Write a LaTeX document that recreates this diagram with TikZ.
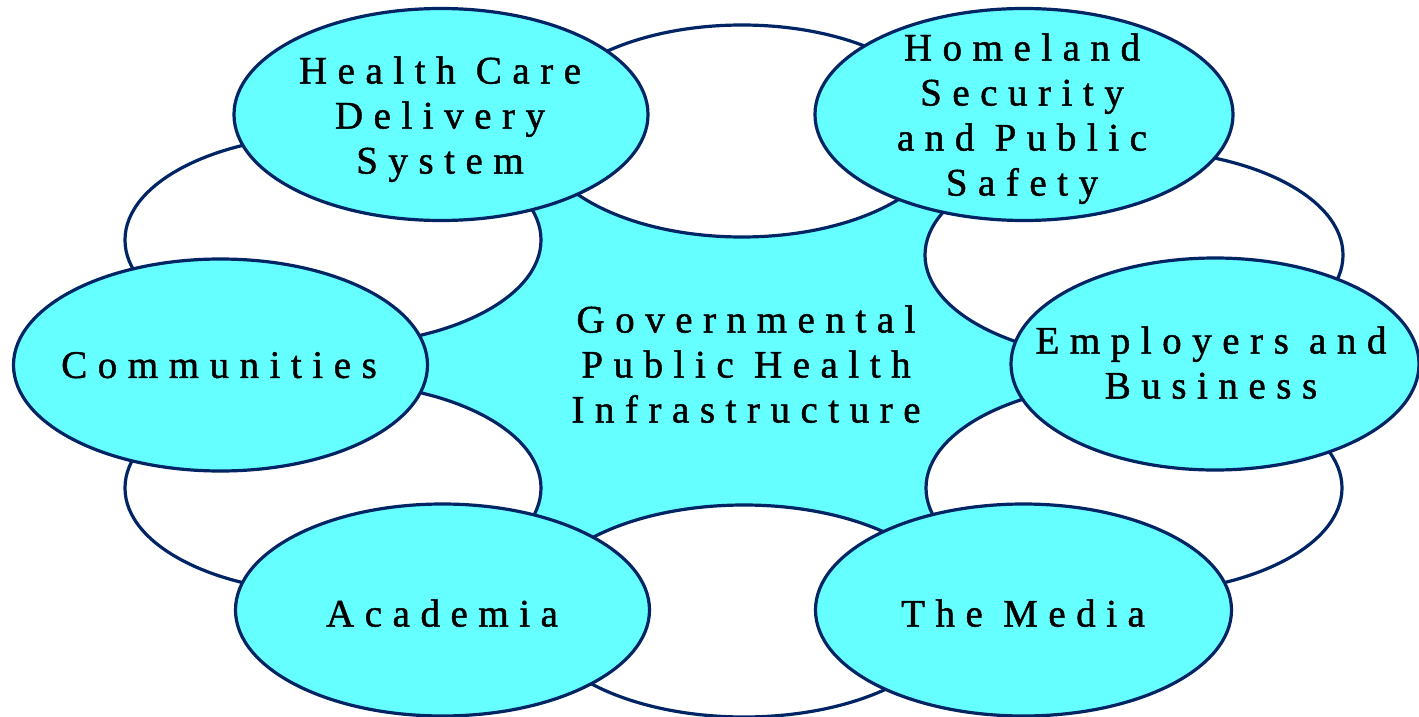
\documentclass[tikz,border=0pt]{standalone}
\usepackage{fontspec}
\setmainfont{Liberation Serif}[LetterSpace=27, FakeBold=1.2]
\usetikzlibrary{shapes.geometric}

\definecolor{bubble}{RGB}{102,255,255}
\definecolor{rim}{RGB}{0,36,100}

\tikzset{
  partner/.style={ellipse, draw=rim, fill=bubble, line width=3.2pt,
    minimum width=414pt, minimum height=212pt, inner sep=0pt},
  link/.style={ellipse, draw=rim, fill=white, line width=3.2pt,
    inner sep=0pt},
  caption/.style={align=center, inner sep=0pt, text depth=0pt,
    font=\fontsize{39}{45}\selectfont}
}

\begin{document}
\begin{tikzpicture}[x=1pt, y=-1pt]
\useasboundingbox (0,0) rectangle (1419,717);

% centres of the six partner ellipses
\coordinate (hcC) at (441,114.5);
\coordinate (hsC) at (1024,114.5);
\coordinate (cmC) at (220.5,365);
\coordinate (ebC) at (1215,364);
\coordinate (acC) at (442.5,610);
\coordinate (mdC) at (1023.5,610);
% centres of the six linking ellipses
\coordinate (tpC) at (742,131);
\coordinate (btC) at (744,611);
\coordinate (luC) at (333,240);
\coordinate (llC) at (333,488);
\coordinate (ruC) at (1134,255);
\coordinate (rlC) at (1134,488);

% the governmental core fills the inside of the ring
\fill[bubble] (hcC) -- (tpC) -- (hsC) -- (ruC) -- (ebC) -- (rlC) -- (mdC)
  -- (btC) -- (acC) -- (llC) -- (cmC) -- (luC) -- cycle;

% linking ellipses between neighbouring partners
\node[link, minimum width=410pt, minimum height=212pt] (tp) at (tpC) {};
\node[link, minimum width=420pt, minimum height=212pt] (bt) at (btC) {};
\node[link, minimum width=416pt, minimum height=210pt] (lu) at (luC) {};
\node[link, minimum width=416pt, minimum height=210pt] (ll) at (llC) {};
\node[link, minimum width=418pt, minimum height=210pt] (ru) at (ruC) {};
\node[link, minimum width=416pt, minimum height=210pt] (rl) at (rlC) {};

% partner ellipses
\node[partner] (hc) at (hcC) {};
\node[partner, minimum width=418pt] (hs) at (hsC) {};
\node[partner] (cm) at (cmC) {};
\node[partner, minimum width=408pt] (eb) at (ebC) {};
\node[partner] (ac) at (acC) {};
\node[partner, minimum width=416pt] (md) at (mdC) {};

% labels
\node[caption] (hcT) at (440,115) {Health Care\\Delivery\\System};
\node[caption] (hsT) at (1022,114.5) {Homeland\\Security\\and Public\\Safety};
\node[caption] (gphT) at (746,364) {Governmental\\Public Health\\Infrastructure};
\node[caption] (cmT) at (219,365) {Communities};
\node[caption] (ebT) at (1211,362.5) {Employers and\\Business};
\node[caption] (acT) at (442,613) {Academia};
\node[caption] (mdT) at (1023,613) {The Media};
\end{tikzpicture}
\end{document}
